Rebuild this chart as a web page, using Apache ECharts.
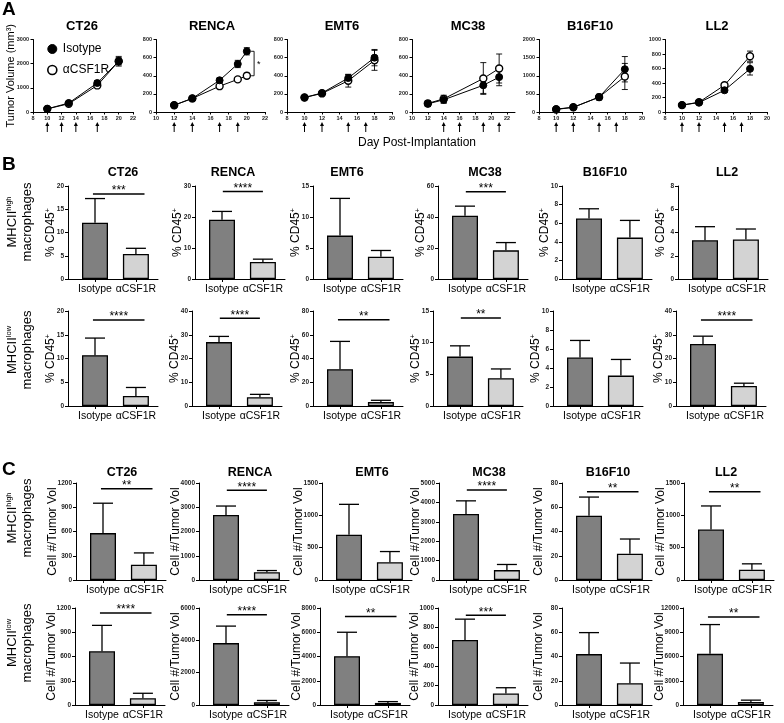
<!DOCTYPE html>
<html><head><meta charset="utf-8">
<script src="https://cdn.jsdelivr.net/npm/echarts@6/dist/echarts.min.js"></script>
<style>html,body{margin:0;padding:0;background:#fff}#c{width:784px;height:723px}</style>
</head><body><div id="c"></div>
<script>
const FONT = 'Liberation Sans, Arial, Helvetica, sans-serif';
const models = ['CT26', 'RENCA', 'EMT6', 'MC38', 'B16F10', 'LL2'];
const groups = ['Isotype', 'αCSF1R'];

// ---- Panel A: tumor growth (mean ± SEM) ----
const tumorDays = [[10,13,17,20],[12,14,17,19,20],[10,12,15,18],[12,14,19,21],[10,12,15,18],[10,12,15,18]];
const tumorIso = [[130,370,1200,2100],[75,150,350,530,670],[160,210,375,600],[90,135,295,385],[80,130,410,1180],[95,130,300,595]];
const tumorIsoSem = [[40,50,100,200],[15,15,25,40,40],[15,20,40,90],[30,40,90,95],[40,30,80,350],[15,15,30,85]];
const tumorCsf = [[130,340,1100,2100],[75,150,285,360,400],[160,205,345,570],[95,145,370,480],[70,130,410,980],[95,135,370,770]];
const tumorCsfSem = [[40,40,80,150],[15,15,20,20,30],[15,15,70,110],[30,40,175,160],[30,30,60,360],[15,15,25,70]];
const dosingDays = [[10,12,14,17],[12,14,17,19],[10,12,15,17],[14,16,19,21],[10,12,15,17],[10,12,15,17]];
const tumorXMin = [8,10,8,10,8,8];
const tumorXMax = [22,22,20,23,20,20];
const tumorYMax = [3000,800,800,800,2000,1000];
const tumorYStep = [1000,200,200,200,500,200];
const rencaSig = [20.8, 670, 400]; // day, upper, lower of bracket

// ---- Panel B: % CD45+ ----
const highPct = [[12.1,5.4],[19.1,5.5],[7.0,3.6],[40.8,18.5],[6.5,4.45],[3.33,3.4]];
const highPctSem = [[5.2,1.2],[2.7,0.9],[6.0,1.0],[6.2,5.0],[1.05,1.85],[1.17,0.9]];
const highPctMax = [20,30,15,60,10,8];
const highPctStep = [5,10,5,20,2,2];
const highPctSig = [['***',18.3],['****',28.2],null,['***',56.3],null,null];

const lowPct = [[10.7,2.1],[26.9,3.7],[31,3.3],[7.8,4.4],[5.1,3.2],[26.1,8.4]];
const lowPctSem = [[3.6,1.8],[2.4,1.2],[23.4,1.5],[1.7,1.45],[1.8,1.7],[3.3,1.2]];
const lowPctMax = [20,40,80,15,10,40];
const lowPctStep = [5,10,20,5,2,10];
const lowPctSig = [['****',18.1],['****',36.9],['**',72.7],['**',13.9],null,['****',36.2]];

// ---- Panel C: cell # / tumor volume ----
const highCells = [[580,190],[2680,320],[700,275],[3400,510],[53,21.7],[780,160]];
const highCellsSem = [[370,145],[370,70],[470,165],[680,290],[15.4,12.1],[365,90]];
const highCellsMax = [1200,4000,1500,5000,80,1500];
const highCellsStep = [300,1000,500,1000,20,500];
const highCellsSig = [['**',1130],['****',3700],null,['****',4640],['**',72.7],['**',1365]];

const lowCells = [[665,83],[3830,170],[4030,170],[670,118],[42,18],[6330,375]];
const lowCellsSem = [[320,62],[1050,110],[1970,110],[215,60],[17.7,16.6],[3620,225]];
const lowCellsMax = [1200,6000,8000,1000,80,12000];
const lowCellsStep = [300,2000,2000,200,20,3000];
const lowCellsSig = [['****',1138],['****',5580],['**',7300],['***',924],null,['**',10875]];

// ---- layout / style ----
const aLeft = [33,156,287,412,539,665];
const aWidth = [100,109,105,103,103,102];
const aTitleX = [82,212,342,468,590,717];
const rowTop = [186,311,483,608];
const rowHeight = [93,95,97,97];
const rowX0 = [[68,195,313,438,562,678],[68,192,313,433,553,676],[76,199,322,439,562,684],[75,199,320,438,562,683]];
const bTitleX = [123,233,347,485,605,727];
const cTitleX = [122,250,372,489,608,726];
const sigWide = [true,false,true,false,true,true];
const barColors = ['#808080','#d3d3d3'];

const rows = [
  {vals: highPct, sem: highPctSem, max: highPctMax, step: highPctStep, sig: highPctSig, pct: true},
  {vals: lowPct, sem: lowPctSem, max: lowPctMax, step: lowPctStep, sig: lowPctSig, pct: true},
  {vals: highCells, sem: highCellsSem, max: highCellsMax, step: highCellsStep, sig: highCellsSig, pct: false},
  {vals: lowCells, sem: lowCellsSem, max: lowCellsMax, step: lowCellsStep, sig: lowCellsSig, pct: false}
];

const chart = echarts.init(document.getElementById('c'));
const grid = [], xAxis = [], yAxis = [], series = [], graphic = [];
const axisLine = {show: true, onZero: false, lineStyle: {color: '#000', width: 1}};
const plain = v => String(v);

function errRender(capHalf, both, lw) {
  return function (params, api) {
    const x = api.value(0);
    const lo = api.coord([x, api.value(1)]);
    const hi = api.coord([x, api.value(2)]);
    const st = {stroke: '#000', lineWidth: lw};
    const ch = [
      {type: 'line', shape: {x1: hi[0], y1: lo[1], x2: hi[0], y2: hi[1]}, style: st},
      {type: 'line', shape: {x1: hi[0] - capHalf, y1: hi[1], x2: hi[0] + capHalf, y2: hi[1]}, style: st}
    ];
    if (both) ch.push({type: 'line', shape: {x1: lo[0] - capHalf, y1: lo[1], x2: lo[0] + capHalf, y2: lo[1]}, style: st});
    return {type: 'group', children: ch};
  };
}

// Panel A
models.forEach((m, i) => {
  const gi = grid.length;
  grid.push({left: aLeft[i], top: 39.5, width: aWidth[i], height: 72.5});
  xAxis.push({type: 'value', gridIndex: gi, min: tumorXMin[i], max: tumorXMax[i], interval: 2,
    axisLine, axisTick: {show: true, length: 2.5, lineStyle: {color: '#000'}},
    axisLabel: {fontSize: 5.5, fontWeight: 'bold', color: '#222', margin: 3, fontFamily: FONT, formatter: plain, showMaxLabel: tumorXMax[i] % 2 === 0},
    splitLine: {show: false}});
  yAxis.push({type: 'value', gridIndex: gi, min: 0, max: tumorYMax[i], interval: tumorYStep[i],
    axisLine, axisTick: {show: true, length: 2.5, lineStyle: {color: '#000'}},
    axisLabel: {fontSize: 5.5, fontWeight: 'bold', color: '#222', margin: 4, fontFamily: FONT, formatter: plain},
    splitLine: {show: false},
    name: i === 0 ? 'Tumor Volume (mm³)' : '', nameLocation: 'middle', nameGap: 17, nameMoveOverlap: false,
    nameTextStyle: {fontSize: 11, fontFamily: FONT, color: '#000'}});
  const days = tumorDays[i];
  series.push({type: 'custom', xAxisIndex: gi, yAxisIndex: gi, z: 2, clip: false, silent: true,
    data: days.map((d, k) => [d, tumorIso[i][k] - tumorIsoSem[i][k], tumorIso[i][k] + tumorIsoSem[i][k]]),
    renderItem: errRender(3, true, 0.9)});
  series.push({type: 'custom', xAxisIndex: gi, yAxisIndex: gi, z: 2, clip: false, silent: true,
    data: days.map((d, k) => [d, tumorCsf[i][k] - tumorCsfSem[i][k], tumorCsf[i][k] + tumorCsfSem[i][k]]),
    renderItem: errRender(3, true, 0.9)});
  series.push({type: 'line', name: 'αCSF1R', xAxisIndex: gi, yAxisIndex: gi, z: 3,
    data: days.map((d, k) => [d, tumorCsf[i][k]]), symbol: 'circle', symbolSize: 7,
    lineStyle: {color: '#000', width: 1}, itemStyle: {color: '#fff', borderColor: '#000', borderWidth: 1.4}});
  series.push({type: 'line', name: 'Isotype', xAxisIndex: gi, yAxisIndex: gi, z: 4,
    data: days.map((d, k) => [d, tumorIso[i][k]]), symbol: 'circle', symbolSize: 7,
    lineStyle: {color: '#000', width: 1}, itemStyle: {color: '#000', borderColor: '#000'}});
  series.push({type: 'custom', xAxisIndex: gi, yAxisIndex: gi, clip: false, silent: true,
    data: dosingDays[i].map(d => [d]),
    renderItem: function (params, api) {
      const p = api.coord([api.value(0), 0]);
      const x = p[0], y0 = p[1] + 10, y1 = p[1] + 20;
      return {type: 'group', children: [
        {type: 'line', shape: {x1: x, y1: y0 + 3, x2: x, y2: y1}, style: {stroke: '#000', lineWidth: 1}},
        {type: 'polygon', shape: {points: [[x, y0], [x - 2, y0 + 4], [x + 2, y0 + 4]]}, style: {fill: '#000'}}
      ]};
    }});
  if (i === 1) {
    series.push({type: 'custom', xAxisIndex: gi, yAxisIndex: gi, clip: false, silent: true,
      data: [rencaSig],
      renderItem: function (params, api) {
        const a = api.coord([api.value(0), api.value(1)]);
        const b = api.coord([api.value(0), api.value(2)]);
        const st = {stroke: '#000', lineWidth: 0.9};
        return {type: 'group', children: [
          {type: 'line', shape: {x1: a[0], y1: a[1], x2: b[0], y2: b[1]}, style: st},
          {type: 'line', shape: {x1: a[0] - 3, y1: a[1], x2: a[0], y2: a[1]}, style: st},
          {type: 'line', shape: {x1: b[0] - 3, y1: b[1], x2: b[0], y2: b[1]}, style: st},
          {type: 'text', x: a[0] + 3, y: (a[1] + b[1]) / 2 + 1, style: {text: '*', fontSize: 9, fontFamily: FONT, fill: '#000', verticalAlign: 'middle'}}
        ]};
      }});
  }
  graphic.push({type: 'text', x: aTitleX[i], y: 26, style: {text: m, fontSize: 13, fontWeight: 'bold', fontFamily: FONT, fill: '#000', align: 'center', verticalAlign: 'middle'}});
});

// Panels B and C
rows.forEach((row, r) => {
  models.forEach((m, i) => {
    const gi = grid.length;
    const x0 = rowX0[r][i];
    grid.push({left: x0, top: rowTop[r], width: 90, height: rowHeight[r]});
    const pos = groups.map((g, k) => k + 0.66);
    xAxis.push({type: 'value', gridIndex: gi, min: 0, max: 2.2, axisLine,
      axisTick: {show: true, length: 3, customValues: pos, lineStyle: {color: '#000'}},
      axisLabel: {customValues: pos, fontSize: 10.5, color: '#000', margin: 5, fontFamily: FONT,
        formatter: v => groups[Math.round(v - 0.66)]},
      splitLine: {show: false}});
    yAxis.push({type: 'value', gridIndex: gi, min: 0, max: row.max[i], interval: row.step[i], axisLine,
      axisTick: {show: true, length: 3, lineStyle: {color: '#000'}},
      axisLabel: {fontSize: 6.5, fontWeight: 'bold', color: '#222', margin: 4, fontFamily: FONT, formatter: plain},
      splitLine: {show: false},
      name: row.pct ? '% CD45{s|+}' : 'Cell #/Tumor Vol', nameLocation: 'middle', nameGap: row.pct ? 11 : 17, nameMoveOverlap: false,
      nameTextStyle: {fontSize: 12, fontFamily: FONT, color: '#000', rich: {s: {fontSize: 7, verticalAlign: 'top', fontFamily: FONT, padding: [0, 0, 5, 0]}}}});
    series.push({type: 'bar', xAxisIndex: gi, yAxisIndex: gi, barWidth: 26, z: 2, silent: true,
      data: row.vals[i].map((v, k) => ({value: [pos[k], v], itemStyle: {color: barColors[k]}})),
      itemStyle: {borderColor: '#000', borderWidth: 1.3}});
    series.push({type: 'custom', xAxisIndex: gi, yAxisIndex: gi, z: 3, clip: false, silent: true,
      data: row.vals[i].map((v, k) => [pos[k], v, v + row.sem[i][k]]),
      renderItem: errRender(10, false, 1.3)});
    const sg = row.sig[i];
    if (sg) {
      const x1 = sigWide[i] ? 0.61 : 0.68, x2 = sigWide[i] ? 1.87 : 1.66;
      series.push({type: 'custom', xAxisIndex: gi, yAxisIndex: gi, z: 3, clip: false, silent: true,
        data: [[x1, x2, sg[1]]],
        renderItem: function (params, api) {
          const a = api.coord([api.value(0), api.value(2)]);
          const b = api.coord([api.value(1), api.value(2)]);
          return {type: 'group', children: [
            {type: 'line', shape: {x1: a[0], y1: a[1], x2: b[0], y2: b[1]}, style: {stroke: '#000', lineWidth: 1.5}},
            {type: 'text', x: (a[0] + b[0]) / 2, y: a[1] - 3, style: {text: sg[0], fontSize: 12, fontFamily: FONT, fill: '#000', align: 'center', verticalAlign: 'middle'}}
          ]};
        }});
    }
    if (r === 0 || r === 2) {
      graphic.push({type: 'text', x: (r === 0 ? bTitleX : cTitleX)[i], y: r === 0 ? 173 : 473,
        style: {text: m, fontSize: 12.5, fontWeight: 'bold', fontFamily: FONT, fill: '#000', align: 'center', verticalAlign: 'middle'}});
    }
  });
});

// Row labels
const rowLabelY = [222, 350, 518, 643];
const rowLabelSup = ['high', 'low', 'high', 'low'];
rowLabelY.forEach((y, r) => {
  graphic.push({type: 'text', x: 19.5, y: y, rotation: Math.PI / 2,
    style: {text: '{a|MHCII}{s|' + rowLabelSup[r] + '}\n{a|macrophages}', align: 'center', verticalAlign: 'middle',
      fill: '#000', fontFamily: FONT,
      rich: {a: {fontSize: 13, fontFamily: FONT, lineHeight: 15}, s: {fontSize: 7.5, fontFamily: FONT, verticalAlign: 'top', lineHeight: 15}}}});
});

// Panel letters and shared axis title
[['A', 9.5], ['B', 165], ['C', 470]].forEach(([t, y]) => {
  graphic.push({type: 'text', x: 2, y: y, style: {text: t, fontSize: 19, fontWeight: 'bold', fontFamily: FONT, fill: '#000', verticalAlign: 'middle'}});
});
graphic.push({type: 'text', x: 417, y: 143, style: {text: 'Day Post-Implantation', fontSize: 12, fontFamily: FONT, fill: '#000', align: 'center', verticalAlign: 'middle'}});

chart.setOption({
  animation: false,
  backgroundColor: '#fff',
  textStyle: {fontFamily: FONT},
  grid, xAxis, yAxis, series, graphic,
  legend: {left: 42, top: 38, orient: 'vertical', itemWidth: 9, itemHeight: 9, itemGap: 9, selectedMode: false,
    textStyle: {fontSize: 12, fontFamily: FONT, color: '#000', padding: [0, 0, 0, 1]},
    data: [
      {name: 'Isotype', icon: 'circle', itemStyle: {color: '#000', borderColor: '#000', borderWidth: 1}},
      {name: 'αCSF1R', icon: 'circle', itemStyle: {color: '#fff', borderColor: '#000', borderWidth: 1.6}}
    ]}
});
</script></body></html>
